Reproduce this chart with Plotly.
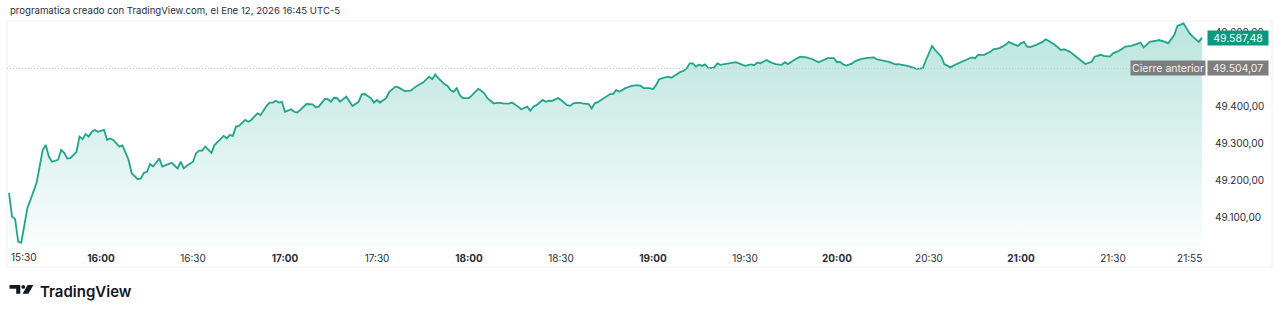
import plotly.graph_objects as go
import pandas as pd

# ---------------- data ----------------
session_date = "2026-01-12"
times = [
    "15:30","15:31","15:32","15:33","15:34","15:36","15:37","15:39","15:41","15:42",
    "15:43","15:44","15:46","15:47","15:48","15:49","15:50","15:52","15:53","15:54",
    "15:55","15:56","15:57","15:58","15:59","16:01","16:02","16:03","16:04","16:06",
    "16:07","16:09","16:10","16:12","16:13","16:14","16:15","16:16","16:17","16:19",
    "16:20","16:21","16:23","16:25","16:26","16:27","16:28","16:30","16:31","16:32",
    "16:33","16:34","16:36","16:37","16:39","16:40","16:41","16:42","16:43","16:44",
    "16:45","16:46","16:47","16:48","16:49","16:50","16:51","16:52","16:53","16:54",
    "16:55","16:56","16:57","16:58","16:59","17:00","17:01","17:02","17:03","17:04",
    "17:05","17:07","17:09","17:10","17:11","17:13","17:14","17:15","17:16","17:17",
    "17:18","17:20","17:22","17:24","17:25","17:26","17:28","17:29","17:30","17:31",
    "17:33","17:34","17:36","17:37","17:39","17:41","17:43","17:45","17:47","17:48",
    "17:49","17:50","17:52","17:53","17:54","17:55","17:56","17:57","17:58","18:00",
    "18:01","18:03","18:04","18:05","18:06","18:08","18:10","18:11","18:13","18:14",
    "18:16","18:17","18:19","18:20","18:21","18:22","18:24","18:25","18:26","18:27",
    "18:29","18:30","18:32","18:33","18:34","18:36","18:37","18:39","18:40","18:41",
    "18:42","18:44","18:46","18:47","18:48","18:49","18:51","18:53","18:55","18:56",
    "18:57","18:59","19:00","19:01","19:02","19:04","19:05","19:06","19:08","19:09",
    "19:10","19:11","19:12","19:13","19:14","19:15","19:16","19:17","19:18","19:19",
    "19:20","19:21","19:22","19:24","19:26","19:27","19:28","19:30","19:32","19:33",
    "19:34","19:35","19:37","19:38","19:40","19:42","19:43","19:44","19:46","19:48",
    "19:50","19:52","19:54","19:56","19:57","19:59","20:00","20:01","20:02","20:03",
    "20:05","20:06","20:08","20:10","20:12","20:13","20:15","20:17","20:19","20:20",
    "20:23","20:25","20:26","20:28","20:29","20:31","20:32","20:34","20:35","20:37",
    "20:39","20:42","20:44","20:45","20:46","20:48","20:50","20:51","20:53","20:55",
    "20:56","20:57","20:59","21:00","21:01","21:02","21:03","21:05","21:07","21:08",
    "21:09","21:11","21:13","21:14","21:16","21:18","21:20","21:21","21:23","21:24",
    "21:26","21:27","21:29","21:30","21:32","21:34","21:36","21:38","21:39","21:40",
    "21:42","21:44","21:45","21:47","21:48","21:50","21:51","21:53","21:55","21:56",
    "21:58","21:59",
]
prices = [
    49168,49104,49097,49036,49033,49127,49149,49195,49284,49297,
    49266,49252,49257,49284,49276,49261,49262,49279,49320,49313,
    49327,49320,49333,49338,49333,49338,49311,49315,49311,49293,
    49296,49257,49221,49205,49207,49222,49225,49246,49239,49261,
    49239,49243,49249,49234,49252,49234,49241,49252,49275,49282,
    49282,49293,49276,49297,49315,49322,49315,49324,49322,49347,
    49349,49358,49365,49360,49365,49374,49383,49378,49392,49403,
    49412,49412,49417,49412,49414,49387,49390,49394,49387,49385,
    49392,49408,49407,49399,49401,49422,49421,49414,49425,49424,
    49414,49428,49403,49414,49434,49435,49424,49412,49419,49412,
    49424,49441,49455,49453,49443,49444,49457,49466,49482,49475,
    49488,49478,49462,49457,49446,49441,49451,49432,49424,49424,
    49432,49449,49444,49437,49424,49410,49412,49410,49409,49412,
    49401,49394,49401,49390,49401,49405,49419,49414,49417,49416,
    49424,49419,49405,49403,49410,49412,49410,49408,49396,49410,
    49413,49424,49435,49435,49446,49441,49451,49457,49459,49457,
    49451,49451,49448,49459,49475,49480,49482,49479,49491,49495,
    49498,49505,49518,49518,49509,49515,49511,49515,49506,49505,
    49507,49518,49514,49516,49518,49521,49518,49511,49515,49513,
    49520,49518,49527,49522,49516,49514,49521,49516,49527,49536,
    49534,49529,49521,49527,49532,49532,49521,49522,49515,49512,
    49518,49524,49530,49533,49534,49529,49525,49522,49515,49516,
    49511,49507,49503,49505,49527,49565,49554,49536,49516,49507,
    49516,49527,49534,49532,49541,49541,49549,49556,49559,49568,
    49576,49572,49565,49572,49576,49563,49562,49568,49576,49583,
    49579,49568,49554,49556,49549,49536,49522,49516,49522,49536,
    49541,49538,49536,49545,49552,49563,49565,49570,49574,49561,
    49576,49579,49581,49576,49572,49595,49619,49626,49599,49590,
    49576,49587.48,
]
prev_close = 49504.07
last_price = prices[-1]

x_tick_times = ["16:00","16:30","17:00","17:30","18:00","18:30","19:00",
                "19:30","20:00","20:30","21:00","21:30","21:55"]
x_tick_bold = [True,False,True,False,True,False,True,False,True,False,True,False,False]
first_label_time = "15:30"
y_ticks = [49100, 49200, 49300, 49400, 49500, 49600]

title_text = "programatica creado con TradingView.com, el Ene 12, 2026 16:45 UTC-5"

# ---------------- figure ----------------
W, H = 1280, 314
def px(x): return x / W
def py(y): return 1 - y / H

ts = pd.to_datetime([f"{session_date} {t}" for t in times])
tick_ts = [f"{session_date} {t}:00" for t in x_tick_times]
tick_txt = [f"<b>{t}</b>" if b else t for t, b in zip(x_tick_times, x_tick_bold)]

y_lo, y_hi = 49021.6, 49632.4
LINE = "#22a38b"

def es_num(v):
    return f"{v:,.2f}".replace(",", "X").replace(".", ",").replace("X", ".")

fig = go.Figure()
fig.add_trace(go.Scatter(
    x=ts, y=prices, mode="lines",
    line=dict(color=LINE, width=1.8),
    fill="tozeroy",
    fillgradient=dict(type="vertical", start=y_lo, stop=y_hi,
                      colorscale=[[0, "rgba(34,171,148,0.02)"],
                                  [1, "rgba(34,171,148,0.32)"]]),
    hoverinfo="skip", showlegend=False,
))

font_fam = "Inter, Roboto, 'Noto Sans', sans-serif"

fig.update_layout(
    width=W, height=H,
    margin=dict(l=0, r=0, t=0, b=0),
    paper_bgcolor="white", plot_bgcolor="white",
    separators=",.",
    font=dict(family=font_fam, size=10, color="#131722"),
    showlegend=False,
    hovermode=False,
    xaxis=dict(
        domain=[px(7), px(1205)],
        range=[f"{session_date} 15:29:21", f"{session_date} 22:00:00"],
        type="date",
        tickmode="array", tickvals=tick_ts, ticktext=tick_txt,
        showgrid=False, zeroline=False, showline=False, ticks="",
        tickfont=dict(size=10, color="#2a2e39"),
        ticklabelstandoff=4,
        fixedrange=True,
    ),
    yaxis=dict(
        domain=[py(247), py(21)],
        range=[y_lo, y_hi],
        side="right",
        tickmode="array", tickvals=y_ticks,
        tickformat=",.2f",
        showgrid=False, zeroline=False, showline=False, ticks="",
        tickfont=dict(size=10, color="#2a2e39"),
        ticklabelstandoff=9,
        fixedrange=True,
    ),
)

# previous close dotted line
fig.add_shape(type="line", xref="paper", yref="y",
              x0=px(7), x1=px(1205), y0=prev_close, y1=prev_close,
              line=dict(color="#c3c6ce", width=1, dash="1px,2px"), layer="above")

# frame
fig.add_shape(type="rect", xref="paper", yref="paper",
              x0=px(7), x1=px(1272), y0=py(267), y1=py(21),
              line=dict(color="#eef0f3", width=1), layer="below")

# first time label (shifted right, like TradingView)
fig.add_annotation(x=f"{session_date} {first_label_time}:00", xref="x",
                   y=py(257), yref="paper", xanchor="left", yanchor="middle",
                   text=first_label_time, showarrow=False,
                   font=dict(size=10, color="#2a2e39"))

# price labels
fig.add_annotation(x=px(1207), xref="paper", y=last_price, yref="y",
                   xanchor="left", yanchor="middle", text=es_num(last_price),
                   showarrow=False, bgcolor="#089981", width=58, height=12, borderpad=1,
                   font=dict(size=10.5, color="white"))
fig.add_annotation(x=px(1207), xref="paper", y=prev_close, yref="y",
                   xanchor="left", yanchor="middle", text=es_num(prev_close),
                   showarrow=False, bgcolor="#7d7d7d", width=58, height=12, borderpad=1,
                   font=dict(size=10.5, color="#f2f2f2"))
fig.add_annotation(x=px(1206), xref="paper", y=prev_close, yref="y",
                   xanchor="right", yanchor="middle",
                   text="Cierre anterior",
                   showarrow=False, bgcolor="#7d7d7d", width=72, height=12, borderpad=1,
                   font=dict(size=10.5, color="#f2f2f2"))

# title
fig.add_annotation(x=px(8), xref="paper", y=py(11), yref="paper",
                   xanchor="left", yanchor="middle", text=title_text, showarrow=False,
                   font=dict(size=9.6, color="#2a2e39"))

# TradingView logo
def path(points):
    return "M " + " L ".join(f"{px(a)},{py(b)}" for a, b in points) + " Z"
fig.add_shape(type="path", xref="paper", yref="paper",
              path=path([(9.5,285),(20.3,285),(20.3,293.8),(16.2,293.8),(16.2,288.8),(9.5,288.8)]),
              fillcolor="#131722", line=dict(width=0))
fig.add_shape(type="circle", xref="paper", yref="paper",
              x0=px(21.4), x1=px(25.2), y0=py(288.8), y1=py(285),
              fillcolor="#131722", line=dict(width=0))
fig.add_shape(type="path", xref="paper", yref="paper",
              path=path([(27.6,285),(33.4,285),(28.4,293.8),(22.6,293.8)]),
              fillcolor="#131722", line=dict(width=0))
fig.add_annotation(x=px(38), xref="paper", y=py(291), yref="paper",
                   xanchor="left", yanchor="middle", text="TradingView", showarrow=False,
                   font=dict(size=15, color="#131722", weight=600))

fig.write_html("out.html", config={"displayModeBar": False})
